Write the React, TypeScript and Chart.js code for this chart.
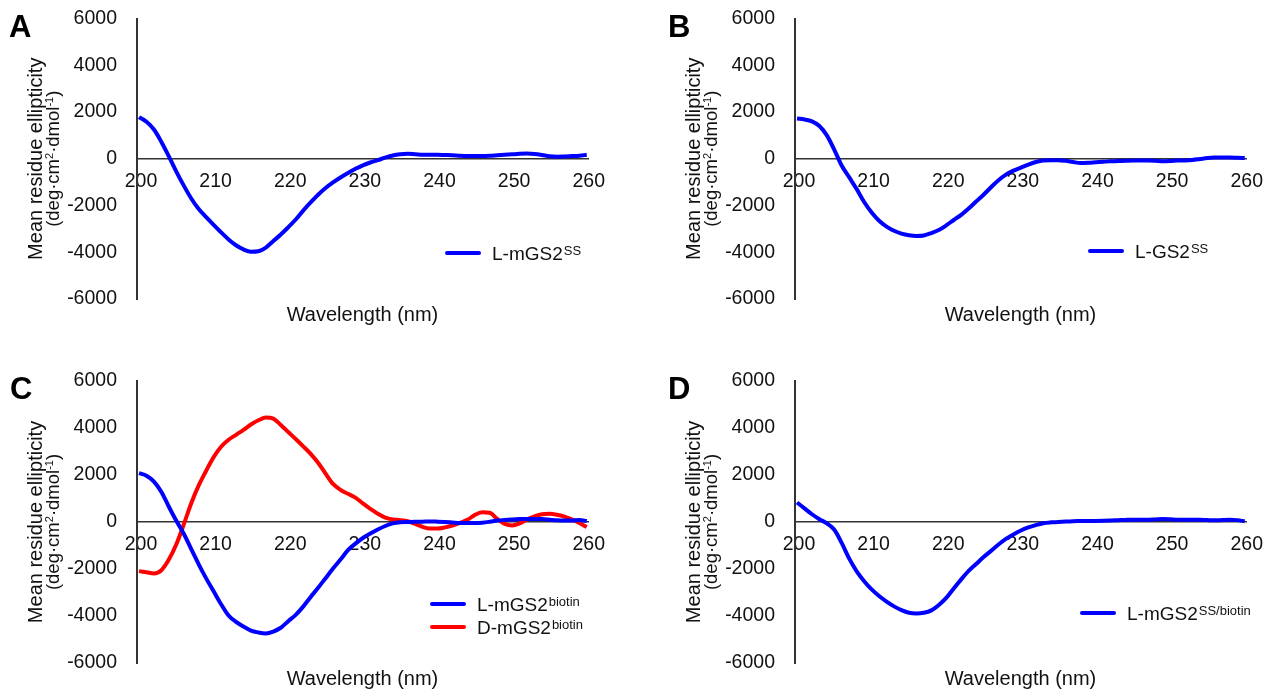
import React, { useEffect, useRef } from 'react';
import { Chart, registerables } from 'chart.js';

Chart.register(...registerables);

const FONT = '"Liberation Sans", Arial, Helvetica, sans-serif';
const TEXT = '#111111';
const AXIS = '#333333';
const BLUE = '#0000ff';
const RED = '#ff0000';

const WAVELENGTHS = [
  200, 201, 202, 203, 204, 205, 206, 207, 208, 209,
  210, 211, 212, 213, 214, 215, 216, 217, 218, 219,
  220, 221, 222, 223, 224, 225, 226, 227, 228, 229,
  230, 231, 232, 233, 234, 235, 236, 237, 238, 239,
  240, 241, 242, 243, 244, 245, 246, 247, 248, 249,
  250, 251, 252, 253, 254, 255, 256, 257, 258, 259,
  260,
];
const X_TICKS = [200, 210, 220, 230, 240, 250, 260];
const Y_TICKS = [-6000, -4000, -2000, 0, 2000, 4000, 6000];
const X_TITLE = 'Wavelength (nm)';
const Y_TITLE_LINE1 = [{ t: 'Mean residue ellipticity', sup: false }];
const Y_TITLE_LINE2 = [
  { t: '(deg·cm', sup: false },
  { t: '2', sup: true },
  { t: '·dmol', sup: false },
  { t: '-1', sup: true },
  { t: ')', sup: false },
];

// Panel A: L-mGS2 SS
const A_L_MGS2_SS = [
  1780, 1580, 1250, 720, 100, -550, -1150, -1700, -2150, -2500,
  -2830, -3150, -3450, -3700, -3880, -3980, -3960, -3800, -3520, -3240,
  -2930, -2600, -2220, -1870, -1540, -1250, -1010, -800, -610, -430,
  -280, -160, -60, 50, 140, 190, 210, 195, 175, 170,
  170, 160, 150, 130, 120, 120, 120, 130, 150, 170,
  190, 210, 220, 200, 160, 110, 90, 100, 115, 130,
  170,
];
// Panel B: L-GS2 SS
const B_L_GS2_SS = [
  1720, 1680, 1600, 1400, 1000, 380, -300, -800, -1300, -1850,
  -2300, -2650, -2900, -3080, -3200, -3270, -3300, -3280, -3180, -3050,
  -2850, -2620, -2400, -2130, -1830, -1540, -1220, -920, -680, -510,
  -380, -250, -140, -70, -60, -60, -90, -140, -180, -170,
  -150, -130, -110, -100, -90, -80, -80, -80, -90, -110,
  -100, -80, -70, -50, -10, 30, 50, 55, 55, 45,
  30,
];
// Panel C: L-mGS2 biotin
const C_L_MGS2_BIOTIN = [
  2080, 1970, 1720, 1280, 650, 50, -500, -1150, -1800, -2400,
  -2950, -3500, -3980, -4250, -4450, -4620, -4700, -4740, -4660, -4500,
  -4220, -3950, -3600, -3190, -2800, -2390, -1980, -1600, -1200, -920,
  -680, -490, -320, -170, -60, -10, 0, 10, 15, 25,
  15, 0, -20, -40, -45, -45, -30, 10, 60, 90,
  110, 125, 130, 130, 125, 100, 70, 60, 60, 85,
  40,
];
// Panel C: D-mGS2 biotin
const C_D_MGS2_BIOTIN = [
  -2090, -2140, -2190, -2050, -1600, -950, -100, 800, 1560, 2180,
  2760, 3200, 3500, 3710, 3920, 4150, 4330, 4450, 4400, 4130,
  3830, 3530, 3220, 2900, 2520, 2060, 1620, 1370, 1200, 1040,
  790, 560, 350, 190, 110, 80, 30, -80, -210, -280,
  -280, -230, -150, -40, 90, 300, 410, 390, 130, -80,
  -150, -60, 110, 240, 330, 350, 310, 230, 110, -40,
  -215,
];
// Panel D: L-mGS2 SS/biotin
const D_L_MGS2_SS_BIOTIN = [
  830, 580, 330, 120, -60, -330, -900, -1560, -2100, -2520,
  -2870, -3150, -3390, -3590, -3750, -3860, -3890, -3860, -3760, -3530,
  -3230, -2830, -2440, -2080, -1790, -1490, -1230, -960, -720, -530,
  -360, -230, -130, -50, -15, 0, 20, 35, 40, 45,
  45, 50, 60, 75, 90, 100, 100, 100, 110, 125,
  115, 100, 100, 100, 95, 80, 70, 85, 95, 80,
  30,
];

type Series = { label: string; sup: string; color: string; values: number[] };
type PanelCfg = {
  letter: string;
  letterLeft: number;
  letterTop: number;
  left: number;
  top: number;
  width: number;
  height: number;
  padTop: number;
  padRight: number;
  padBottom: number;
  yWidth: number;
  legendX: number;
  legendY: number;
  series: Series[];
};

const PANELS: PanelCfg[] = [
  {
    letter: 'A', letterLeft: 9, letterTop: 11,
    left: 0, top: 0, width: 631, height: 345,
    padTop: 18.5, padRight: 43, padBottom: 18,
    yWidth: 137,
    legendX: 445, legendY: 253,
    series: [{ label: 'L-mGS2', sup: 'SS', color: BLUE, values: A_L_MGS2_SS }],
  },
  {
    letter: 'B', letterLeft: 668, letterTop: 11,
    left: 631, top: 0, width: 632, height: 345,
    padTop: 18.5, padRight: 17, padBottom: 18,
    yWidth: 164,
    legendX: 457, legendY: 251,
    series: [{ label: 'L-GS2', sup: 'SS', color: BLUE, values: B_L_GS2_SS }],
  },
  {
    letter: 'C', letterLeft: 10, letterTop: 373,
    left: 0, top: 345, width: 631, height: 346,
    padTop: 36, padRight: 43, padBottom: 0,
    yWidth: 137,
    legendX: 430, legendY: 259,
    series: [
      { label: 'L-mGS2', sup: 'biotin', color: BLUE, values: C_L_MGS2_BIOTIN },
      { label: 'D-mGS2', sup: 'biotin', color: RED, values: C_D_MGS2_BIOTIN },
    ],
  },
  {
    letter: 'D', letterLeft: 668, letterTop: 373,
    left: 631, top: 345, width: 632, height: 346,
    padTop: 36, padRight: 17, padBottom: 0,
    yWidth: 164,
    legendX: 449, legendY: 268,
    series: [{ label: 'L-mGS2', sup: 'SS/biotin', color: BLUE, values: D_L_MGS2_SS_BIOTIN }],
  },
];

const supLegendPlugin = {
  id: 'supLegend',
  afterDatasetsDraw(chart: any, _args: any, opts: any) {
    const ctx = chart.ctx as CanvasRenderingContext2D;
    const items = (opts && opts.items) || [];
    items.forEach((it: any, i: number) => {
      const ly = opts.y + i * opts.gap;
      ctx.save();
      ctx.strokeStyle = it.color;
      ctx.lineWidth = 4;
      ctx.lineCap = 'round';
      ctx.beginPath();
      ctx.moveTo(opts.x + 2, ly);
      ctx.lineTo(opts.x + 34, ly);
      ctx.stroke();
      ctx.fillStyle = TEXT;
      ctx.textAlign = 'left';
      ctx.textBaseline = 'alphabetic';
      ctx.font = `19px ${FONT}`;
      const tx = opts.x + 47;
      ctx.fillText(it.label, tx, ly + 6.5);
      const w = ctx.measureText(it.label).width;
      ctx.font = `13px ${FONT}`;
      ctx.fillText(it.sup, tx + w + 1, ly + 1.5);
      ctx.restore();
    });
  },
};

const yTitlePlugin = {
  id: 'yTitle',
  afterDraw(chart: any, _args: any, opts: any) {
    const ctx = chart.ctx as CanvasRenderingContext2D;
    const ca = chart.chartArea;
    const cy = (ca.top + ca.bottom) / 2;
    ctx.save();
    ctx.fillStyle = TEXT;
    ctx.textAlign = 'left';
    ctx.textBaseline = 'alphabetic';
    (opts.lines || []).forEach((line: any[], i: number) => {
      const size = opts.sizes[i];
      const supSize = opts.supSize;
      let total = 0;
      const parts = line.map((p: any) => {
        ctx.font = `${p.sup ? supSize : size}px ${FONT}`;
        const w = ctx.measureText(p.t).width;
        total += w;
        return { t: p.t, sup: p.sup, w };
      });
      ctx.save();
      ctx.translate(ca.left - opts.offsets[i], cy);
      ctx.rotate(-Math.PI / 2);
      let x = -total / 2;
      parts.forEach((p: any) => {
        ctx.font = `${p.sup ? supSize : size}px ${FONT}`;
        ctx.fillText(p.t, x, p.sup ? -size * 0.3 : 0);
        x += p.w;
      });
      ctx.restore();
    });
    ctx.restore();
  },
};

function Panel({ cfg }: { cfg: PanelCfg }) {
  const ref = useRef<HTMLCanvasElement>(null);
  useEffect(() => {
    if (!ref.current) return;
    const chart = new Chart(ref.current, {
      type: 'line',
      data: {
        datasets: cfg.series.map((s) => ({
          label: s.label + s.sup,
          data: WAVELENGTHS.map((w, i) => ({ x: w, y: s.values[i] })),
          borderColor: s.color,
          backgroundColor: s.color,
          borderWidth: 4,
          pointRadius: 0,
          cubicInterpolationMode: 'monotone' as const,
          fill: false,
        })),
      },
      options: {
        animation: false,
        responsive: false,
        events: [],
        layout: {
          padding: { left: 0, top: cfg.padTop, right: cfg.padRight, bottom: cfg.padBottom },
        },
        scales: {
          x: {
            type: 'linear',
            min: 199.73,
            max: 260.17,
            position: { y: 0 } as any,
            grid: { display: false, drawTicks: false },
            border: { display: true, color: AXIS, width: 1.5 },
            afterBuildTicks: (s: any) => {
              s.ticks = X_TICKS.map((v) => ({ value: v }));
            },
            ticks: {
              padding: 0,
              maxRotation: 0,
              autoSkip: false,
              labelOffset: 2,
              color: TEXT,
              font: { family: FONT, size: 19.5, lineHeight: 2.36 },
              callback: (v: any) => String(v),
            },
          },
          y: {
            type: 'linear',
            position: 'left',
            min: -6000,
            max: 6000,
            afterBuildTicks: (s: any) => {
              s.ticks = Y_TICKS.map((v) => ({ value: v }));
            },
            afterFit: (s: any) => {
              s.width = cfg.yWidth;
            },
            grid: { display: false, drawTicks: true, tickLength: 20 },
            border: { display: true, color: AXIS, width: 2 },
            ticks: {
              padding: 0,
              color: TEXT,
              font: { family: FONT, size: 19.5 },
              callback: (v: any) => String(v),
            },
            title: { display: false },
          },
        },
        plugins: {
          legend: { display: false },
          tooltip: { enabled: false },
          title: {
            display: true,
            text: X_TITLE,
            position: 'bottom',
            fullSize: false,
            color: TEXT,
            font: { family: FONT, size: 20, weight: 'normal' },
            padding: { top: 4, bottom: 0 },
          },
          supLegend: {
            x: cfg.legendX,
            y: cfg.legendY,
            gap: 23,
            items: cfg.series.map((s) => ({ label: s.label, sup: s.sup, color: s.color })),
          },
          yTitle: {
            lines: [Y_TITLE_LINE1, Y_TITLE_LINE2],
            sizes: [20, 18.5],
            supSize: 11,
            offsets: [95, 78],
          },
        } as any,
      },
      plugins: [supLegendPlugin, yTitlePlugin],
    } as any);
    return () => chart.destroy();
  }, [cfg]);
  return (
    <canvas
      ref={ref}
      width={cfg.width}
      height={cfg.height}
      style={{ position: 'absolute', left: cfg.left, top: cfg.top, width: cfg.width, height: cfg.height }}
    />
  );
}

export default function App() {
  return (
    <div
      style={{
        position: 'absolute',
        left: 0,
        top: 0,
        width: 1263,
        height: 691,
        background: '#ffffff',
        overflow: 'hidden',
        fontFamily: FONT,
      }}
    >
      {PANELS.map((p) => (
        <Panel key={p.letter} cfg={p} />
      ))}
      {PANELS.map((p) => (
        <div
          key={'l' + p.letter}
          style={{
            position: 'absolute',
            left: p.letterLeft,
            top: p.letterTop,
            fontSize: 31,
            lineHeight: '31px',
            fontWeight: 'bold',
            color: '#000',
            fontFamily: FONT,
          }}
        >
          {p.letter}
        </div>
      ))}
    </div>
  );
}
